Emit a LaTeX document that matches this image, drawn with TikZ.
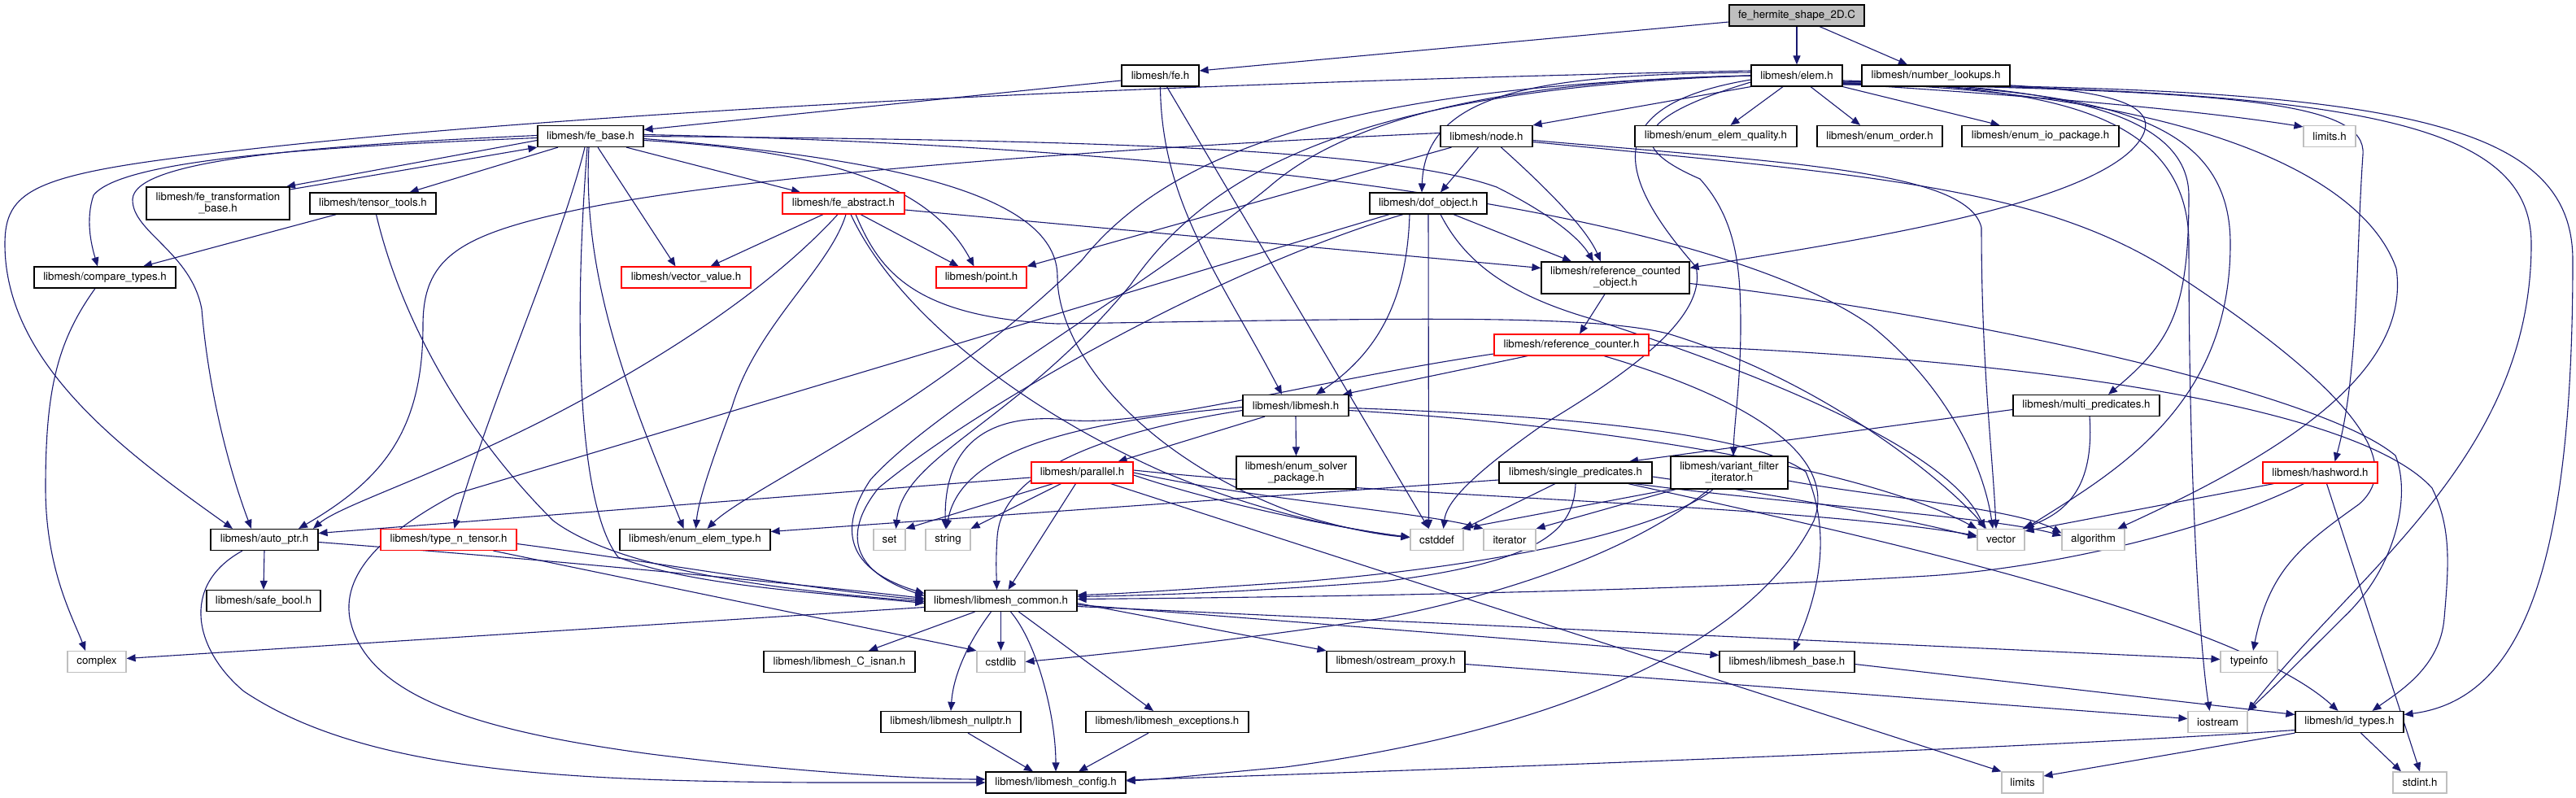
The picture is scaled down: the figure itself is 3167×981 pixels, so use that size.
\documentclass[tikz,border=0pt]{standalone}
\usepackage{fontspec}
\setmainfont{TeX Gyre Heros}
\usetikzlibrary{arrows.meta}
\definecolor{mblue}{HTML}{191970}
\definecolor{lgray}{HTML}{BFBFBF}
\pgfdeclarelayer{bg}
\pgfsetlayers{bg,main}
\tikzset{
  bx/.style={draw=black, fill=white, line width=1.2pt, inner sep=0pt, minimum height=26pt, align=center, font=\fontsize{13.3}{14}\selectfont},
  rb/.style={bx, draw=red},
  gb/.style={bx, draw=lgray},
  rt/.style={bx, fill=lgray},
  e/.style={draw=mblue, line width=1.1pt, -{Triangle[length=11pt,width=9pt]}}
}
\begin{document}
\begin{tikzpicture}[x=1pt,y=-1pt]
\useasboundingbox (0,0) rectangle (3167,981);
% row 1-2
\node[rt, minimum width=166pt] (herm) at (2209,19) {fe\_hermite\_shape\_2D.C};
\node[bx, minimum width=95pt] (fe) at (1426.5,93) {libmesh/fe.h};
\node[bx, minimum width=112pt] (elem) at (2209,93) {libmesh/elem.h};
\node[bx, minimum width=182pt] (numlook) at (2380,93) {libmesh/number\_lookups.h};
% row 3
\node[bx, minimum width=130pt] (febase) at (726,167.5) {libmesh/fe\_base.h};
\node[bx, minimum width=113pt] (node) at (1827.5,167.5) {libmesh/node.h};
\node[bx, minimum width=199pt] (eequal) at (2109.5,167.5) {libmesh/enum\_elem\_quality.h};
\node[bx, minimum width=154pt] (eorder) at (2311,167.5) {libmesh/enum\_order.h};
\node[bx, minimum width=193pt] (eiopkg) at (2508.5,167.5) {libmesh/enum\_io\_package.h};
\node[gb, minimum width=64pt] (limitsh) at (2864,167.5) {limits.h};
% row 4
\node[bx, minimum width=176pt, minimum height=40pt] (fetrans) at (268,250) {libmesh/fe\_transformation\\\_base.h};
\node[bx, minimum width=155pt] (tensor) at (458.5,250) {libmesh/tensor\_tools.h};
\node[rb, minimum width=150pt] (feabs) at (1037,250) {libmesh/fe\_abstract.h};
\node[bx, minimum width=144pt] (dof) at (1756,250) {libmesh/dof\_object.h};
% row 5
\node[bx, minimum width=174pt] (compare) at (129,341) {libmesh/compare\_types.h};
\node[rb, minimum width=159pt] (vecval) at (843.5,341) {libmesh/vector\_value.h};
\node[rb, minimum width=111pt] (point) at (1206.5,341) {libmesh/point.h};
\node[bx, minimum width=182pt, minimum height=39pt] (rco) at (1986,341.5) {libmesh/reference\_counted\\\_object.h};
% row 6-8
\node[rb, minimum width=190pt] (refcounter) at (1932,424) {libmesh/reference\_counter.h};
\node[bx, minimum width=130pt] (libmesh) at (1593,498.5) {libmesh/libmesh.h};
\node[bx, minimum width=180pt] (multipred) at (2565,498.5) {libmesh/multi\_predicates.h};
\node[bx, minimum width=147pt, minimum height=40pt] (esolver) at (1593.5,581) {libmesh/enum\_solver\\\_package.h};
\node[rb, minimum width=125pt] (parallel) at (1330.5,581) {libmesh/parallel.h};
\node[bx, minimum width=188pt] (singlepred) at (1937,581) {libmesh/single\_predicates.h};
\node[bx, minimum width=144pt, minimum height=40pt] (varfilt) at (2126,581) {libmesh/variant\_filter\\\_iterator.h};
\node[rb, minimum width=141pt] (hashword) at (2852.5,581) {libmesh/hashword.h};
% row 9
\node[bx, minimum width=132pt] (autoptr) at (325,663.5) {libmesh/auto\_ptr.h};
\node[rb, minimum width=167pt] (tntensor) at (551.5,663.5) {libmesh/type\_n\_tensor.h};
\node[bx, minimum width=185pt] (etype) at (854.5,663.5) {libmesh/enum\_elem\_type.h};
\node[gb, minimum width=39pt] (setn) at (1093.5,663.5) {set};
\node[gb, minimum width=55pt] (stringn) at (1165.5,663.5) {string};
\node[gb, minimum width=65pt] (cstddef) at (1766.5,663.5) {cstddef};
\node[gb, minimum width=64pt] (iterator) at (1856,663.5) {iterator};
\node[gb, minimum width=58pt] (vector) at (2460,663.5) {vector};
\node[gb, minimum width=77pt] (algorithm) at (2573.5,663.5) {algorithm};
% row 10-13
\node[bx, minimum width=140pt] (safebool) at (324,738.5) {libmesh/safe\_bool.h};
\node[bx, minimum width=187pt] (common) at (1230.5,738.5) {libmesh/libmesh\_common.h};
\node[gb, minimum width=72pt] (complex) at (119,813.5) {complex};
\node[bx, minimum width=186pt] (cisnan) at (1032,813.5) {libmesh/libmesh\_C\_isnan.h};
\node[gb, minimum width=59pt] (cstdlib) at (1230.5,813.5) {cstdlib};
\node[bx, minimum width=170pt] (ostream) at (1716,813.5) {libmesh/ostream\_proxy.h};
\node[bx, minimum width=166pt] (lmbase) at (2197,813.5) {libmesh/libmesh\_base.h};
\node[gb, minimum width=70pt] (typeinfo) at (2765,813.5) {typeinfo};
\node[bx, minimum width=172pt] (nullptr) at (1169,887.5) {libmesh/libmesh\_nullptr.h};
\node[bx, minimum width=200pt] (exceptions) at (1435,887.5) {libmesh/libmesh\_exceptions.h};
\node[gb, minimum width=73pt] (iostream) at (2726.5,887.5) {iostream};
\node[bx, minimum width=133pt] (idtypes) at (2888.5,887.5) {libmesh/id\_types.h};
\node[bx, minimum width=172pt] (config) at (1298,962) {libmesh/libmesh\_config.h};
\node[gb, minimum width=51pt] (limits) at (2486.5,962) {limits};
\node[gb, minimum width=66pt] (stdint) at (2975,962) {stdint.h};

\begin{pgfonlayer}{bg}
% root and fe
\draw[e] ([yshift=-8pt]herm.west) -- ([yshift=6pt]fe.east);
\draw[e] (herm.south) -- (elem.north);
\draw[e] ([xshift=28pt]herm.south) -- ([xshift=-35pt]numlook.north);
\draw[e] ([yshift=-6pt]fe.west) -- ([yshift=8pt]febase.east);
\draw[e] (fe.south) .. controls (1428,250) and (1500,340) .. ([xshift=-17pt]libmesh.north);
\draw[e] ([xshift=8pt]fe.south) -- ([xshift=-10pt]cstddef.north);
% elem
\draw[e] (elem.south west) -- (node.north east);
\draw[e] ([xshift=-17pt]elem.south) -- ([xshift=18pt]eequal.north);
\draw[e] ([xshift=17pt]elem.south) -- ([xshift=-24pt]eorder.north);
\draw[e] (elem.south east) -- ([xshift=-50pt]eiopkg.north);
\draw[e] ([yshift=-10pt]elem.east) .. controls (2500,118) and (2700,135) .. ([yshift=-2pt]limitsh.north west);
\draw[e] ([yshift=4pt]elem.west) .. controls (1900,92) and (1752,110) .. ([xshift=-8pt]dof.north);
\draw[e] ([yshift=-8pt]elem.east) .. controls (2550,100) and (2690,115) .. (2620,185) .. controls (2540,260) and (2250,300) .. ([yshift=-8pt]rco.north east);
\draw[e] ([yshift=6pt]elem.west) .. controls (1500,100) and (700,135) .. (250,190) .. controls (40,215) and (6,235) .. (6,300) .. controls (6,450) and (160,560) .. ([xshift=-39pt]autoptr.north);
\draw[e] (elem.west) .. controls (1800,100) and (1640,160) .. (1560,230) .. controls (1400,360) and (1150,500) .. (1070,590) .. controls (1030,650) and (1040,700) .. ([yshift=9pt]common.west);
\draw[e] (elem.west) .. controls (1700,105) and (1450,170) .. (1330,320) .. controls (1150,500) and (920,600) .. ([xshift=15pt]etype.north);
\draw[e] (elem.west) .. controls (1650,110) and (1480,220) .. (1390,350) .. controls (1250,520) and (1110,560) .. ([xshift=8pt]setn.north);
\draw[e] ([yshift=-5pt]elem.west) .. controls (1960,130) and (1990,220) .. (2085,328) .. controls (2100,390) and (2000,460) .. (1900,520) .. controls (1800,590) and (1778,620) .. ([xshift=8pt]cstddef.north);
\draw[e] ([yshift=-8pt]elem.west) .. controls (1990,150) and (2010,185) .. (2090,220) .. controls (2135,270) and (2140,330) .. (2140,400) .. controls (2140,470) and (2132,520) .. ([xshift=5pt]varfilt.north);
\draw[e] ([yshift=-6pt]elem.east) .. controls (2500,105) and (2690,130) .. (2691,240) .. controls (2691,380) and (2670,420) .. ([xshift=27pt]multipred.north);
\draw[e] ([yshift=-7pt]elem.east) .. controls (2500,108) and (2691,130) .. (2691,300) .. controls (2691,600) and (2705,800) .. ([xshift=-10pt]iostream.north);
\draw[e] ([yshift=-9pt]elem.east) .. controls (2600,108) and (2742,150) .. (2742,300) .. controls (2742,500) and (2600,580) .. (vector.north east);
\draw[e] ([yshift=-9pt]elem.east) .. controls (2650,112) and (2900,200) .. (2946,330) .. controls (2965,460) and (2800,560) .. ([xshift=30pt]algorithm.north);
\draw[e] ([yshift=-10pt]elem.east) .. controls (2750,112) and (2910,125) .. (2905,190) .. controls (2896,320) and (2900,460) .. ([xshift=18pt]hashword.north);
\draw[e] ([yshift=-10pt]elem.east) .. controls (2900,110) and (3112,150) .. (3112,300) .. controls (3112,560) and (2900,700) .. (iostream.north east);
\draw[e] ([yshift=-11pt]elem.east) .. controls (2950,105) and (3163,150) .. (3163,320) .. controls (3163,700) and (3100,860) .. ([yshift=9pt]idtypes.east);
% node
\draw[e] ([xshift=-43pt]node.south) -- (point.north east);
\draw[e] ([xshift=-10pt]node.south) -- ([xshift=15pt]dof.north);
\draw[e] ([xshift=18pt]node.south) .. controls (1900,230) and (1950,280) .. ([xshift=-18pt]rco.north);
\draw[e] ([yshift=4pt]node.west) .. controls (1400,180) and (900,215) .. (700,260) .. controls (560,290) and (520,320) .. (520,400) .. controls (520,530) and (470,590) .. ([xshift=42pt]autoptr.north);
\draw[e] ([yshift=-5pt]node.east) .. controls (2200,200) and (2420,210) .. (2436,280) .. controls (2436,450) and (2450,560) .. ([xshift=-6pt]vector.north);
\draw[e] ([yshift=-7pt]node.east) .. controls (2300,215) and (2500,230) .. (2661,328) .. controls (2850,450) and (2970,560) .. (2900,620) .. controls (2830,670) and (2790,700) .. ([xshift=5pt]typeinfo.north);
% dof
\draw[e] ([xshift=-23pt]dof.south) .. controls (1730,360) and (1700,430) .. ([xshift=25pt]libmesh.north);
\draw[e] (dof.south) -- ([xshift=-10pt]cstddef.north);
\draw[e] ([xshift=31pt]dof.south) -- ([xshift=-54pt]rco.north);
\draw[e] ([xshift=15pt]dof.south) .. controls (1800,320) and (1850,360) .. (1950,390) .. controls (2200,470) and (2400,560) .. ([xshift=-20pt]vector.north);
\draw[e] ([xshift=-48pt]dof.south) -- (561,607) .. controls (480,650) and (420,700) .. (430,760) .. controls (450,860) and (600,900) .. (800,927) .. controls (1000,952) and (1150,958) .. ([yshift=4pt]config.west);
\draw[e] ([xshift=-31pt]dof.south) .. controls (1500,330) and (1200,500) .. (1080,600) .. controls (1040,650) and (1040,700) .. ([yshift=6pt]common.west);
% rco, refcounter
\draw[e] ([xshift=-13pt]rco.south) -- ([xshift=10pt]refcounter.north);
\draw[e] ([yshift=-7pt]rco.east) .. controls (2400,385) and (2850,480) .. (2945,560) .. controls (2965,610) and (2945,700) .. (2880,760) .. controls (2830,810) and (2790,850) .. (iostream.north east);
\draw[e] ([xshift=-54pt]refcounter.south) -- ([xshift=58pt]libmesh.north);
\draw[e] ([yshift=-11pt]refcounter.west) .. controls (1600,470) and (1400,530) .. (1300,515) .. controls (1200,510) and (1160,560) .. ([xshift=-3pt]stringn.north);
\draw[e] ([xshift=40pt]refcounter.south) .. controls (2150,490) and (2260,560) .. (2230,640) .. controls (2150,800) and (1900,900) .. (1580,943) .. controls (1500,950) and (1430,958) .. ([yshift=2pt]config.east);
\draw[e] (refcounter.east) .. controls (2500,440) and (2900,500) .. (2990,600) .. controls (3015,650) and (3010,700) .. (3005,760) .. controls (3000,820) and (2950,850) .. ([xshift=28pt]idtypes.north);
% libmesh
\draw[e] (libmesh.south) -- (esolver.north);
\draw[e] ([xshift=-38pt]libmesh.south) -- ([xshift=44pt]parallel.north);
\draw[e] ([yshift=-6pt]libmesh.west) .. controls (1300,540) and (1230,600) .. (1226,660) .. controls (1224,690) and (1225,705) .. ([xshift=-5pt]common.north);
\draw[e] ([yshift=-2pt]libmesh.west) .. controls (1300,520) and (1180,560) .. ([xshift=-2pt]stringn.north);
\draw[e] ([yshift=-3pt]libmesh.east) .. controls (1900,510) and (2150,530) .. (2220,580) .. controls (2250,650) and (2240,720) .. ([xshift=8pt]lmbase.north);
\draw[e] ([yshift=-6pt]libmesh.east) .. controls (2000,525) and (2300,580) .. (vector.north west);
% parallel
\draw[e] ([yshift=-6pt]parallel.west) -- ([yshift=8pt]autoptr.east);
\draw[e] ([xshift=-36pt]parallel.south) -- (setn.north east);
\draw[e] ([xshift=-26pt]parallel.south) -- (stringn.north east);
\draw[e] ([xshift=-8pt]parallel.south) -- ([xshift=9pt]common.north);
\draw[e] ([yshift=-3pt]parallel.east) .. controls (1500,620) and (1650,650) .. ([yshift=3pt]cstddef.west);
\draw[e] (parallel.east) .. controls (1550,615) and (1750,630) .. (iterator.north west);
\draw[e] ([yshift=3pt]parallel.east) .. controls (1700,610) and (2200,620) .. ([yshift=5pt]vector.west);
\draw[e] ([xshift=35pt]parallel.south) -- (limits.north west);
% single predicates
\draw[e] ([yshift=-9pt]singlepred.west) -- ([yshift=10pt]etype.east);
\draw[e] ([xshift=-25pt]singlepred.south) -- (cstddef.north east);
\draw[e] (singlepred.south) .. controls (1935,650) and (1900,690) .. (1700,715) .. controls (1500,730) and (1400,732) .. ([yshift=5pt]common.east);
\draw[e] ([yshift=-5pt]singlepred.east) .. controls (2200,610) and (2350,640) .. ([yshift=3pt]vector.west);
\draw[e] ([xshift=-30pt]singlepred.south east) .. controls (2300,660) and (2750,760) .. ([xshift=-14pt]idtypes.north);
\draw[e] ([xshift=-22pt]singlepred.south east) .. controls (2200,620) and (2450,635) .. ([yshift=5pt]algorithm.west);
% variant filter iterator
\draw[e] ([xshift=-66pt]varfilt.south) -- (iterator.north east);
\draw[e] (varfilt.south west) -- ([xshift=-3pt]cstddef.north east);
\draw[e] ([xshift=-20pt]varfilt.south) .. controls (2060,640) and (1900,690) .. (1600,715) .. controls (1450,725) and (1380,730) .. ([yshift=7pt]common.east);
\draw[e] ([xshift=-25pt]varfilt.south) .. controls (2030,660) and (1900,720) .. (1700,760) .. controls (1500,790) and (1350,805) .. (cstdlib.east);
\draw[e] ([yshift=-10pt]varfilt.east) .. controls (2300,610) and (2480,625) .. ([yshift=8pt]algorithm.west);
% multi predicates, hashword
\draw[e] ([yshift=-5pt]multipred.west) -- ([xshift=66pt]singlepred.north);
\draw[e] ([xshift=4pt]multipred.south) .. controls (2575,600) and (2540,630) .. ([xshift=-3pt]vector.north east);
\draw[e] ([xshift=14pt]hashword.south west) -- ([yshift=-3pt]vector.north east);
\draw[e] ([xshift=-20pt]hashword.south) .. controls (2700,660) and (2500,700) .. (2370,708) .. controls (2000,730) and (1500,735) .. ([yshift=2pt]common.east);
\draw[e] ([xshift=8pt]hashword.south) -- (stdint.north);
% auto_ptr, type_n_tensor, tensor_tools
\draw[e] (autoptr.south) -- (safebool.north);
\draw[e] ([yshift=-3pt]autoptr.east) .. controls (700,690) and (1000,720) .. ([yshift=3pt]common.west);
\draw[e] ([xshift=-27pt]autoptr.south) .. controls (220,720) and (240,800) .. (300,850) .. controls (450,950) and (700,960) .. (1000,962) .. controls (1100,962) and (1150,962) .. (config.west);
\draw[e] ([yshift=-5pt]tntensor.east) .. controls (800,690) and (1000,725) .. ([yshift=1pt]common.west);
\draw[e] ([xshift=55pt]tntensor.south) -- (cstdlib.north west);
\draw[e] ([xshift=-45pt]tensor.south) -- ([xshift=47pt]compare.north);
\draw[e] ([xshift=4pt]tensor.south) .. controls (490,380) and (560,520) .. (680,640) .. controls (760,700) and (950,725) .. ([yshift=-1pt]common.west);
% fe_base
\draw[e] ([yshift=-5pt]febase.west) -- ([xshift=84pt]fetrans.north);
\draw[e] ([yshift=17pt]fetrans.east) -- (febase.south west);
\draw[e] ([xshift=-40pt]febase.south) -- ([xshift=45pt]tensor.north);
\draw[e] ([yshift=-2pt]febase.west) .. controls (400,180) and (150,195) .. (115,240) .. controls (105,270) and (112,300) .. ([xshift=-9pt]compare.north);
\draw[e] ([yshift=1pt]febase.west) .. controls (350,180) and (165,200) .. (163,245) .. controls (162,285) and (235,310) .. (248,380) .. controls (258,500) and (290,600) .. ([xshift=-16pt]autoptr.north);
\draw[e] ([xshift=44pt]febase.south) -- ([xshift=-53pt]feabs.north);
\draw[e] ([xshift=9pt]febase.south) -- ([xshift=-13pt]vecval.north);
\draw[e] ([yshift=-5pt]febase.east) .. controls (1000,185) and (1140,220) .. ([xshift=-9pt]point.north);
\draw[e] ([yshift=-3pt]febase.east) .. controls (1100,195) and (1300,240) .. (1300,340) .. controls (1300,430) and (1400,560) .. (1590,630) .. controls (1650,650) and (1700,658) .. ([yshift=3pt]cstddef.west);
\draw[e] (febase.east) .. controls (1300,172) and (1700,180) .. (1840,230) .. controls (1900,260) and (1940,290) .. ([xshift=-27pt]rco.north);
\draw[e] ([yshift=2pt]febase.east) .. controls (1500,180) and (2100,260) .. (2300,400) .. controls (2400,480) and (2440,580) .. ([xshift=-10pt]vector.north);
\draw[e] ([xshift=-7pt]febase.south) .. controls (690,300) and (600,500) .. ([xshift=7pt]tntensor.north);
\draw[e] ([xshift=-2pt]febase.south) .. controls (715,350) and (780,500) .. ([xshift=-14pt]etype.north);
\draw[e] ([xshift=-4pt]febase.south) .. controls (705,400) and (710,620) .. (760,685) .. controls (850,720) and (1000,728) .. ([yshift=-3pt]common.west);
% fe_abstract
\draw[e] ([xshift=-25pt]feabs.south) -- ([xshift=30pt]vecval.north);
\draw[e] ([xshift=21pt]feabs.south) -- ([xshift=-28pt]point.north);
\draw[e] ([xshift=-7pt]feabs.south) .. controls (960,340) and (850,420) .. (700,500) .. controls (550,580) and (420,620) .. ([xshift=60pt]autoptr.north);
\draw[e] ([xshift=3pt]feabs.south) .. controls (1020,330) and (930,400) .. (900,500) .. controls (870,580) and (858,620) .. ([xshift=1pt]etype.north);
\draw[e] ([xshift=9pt]feabs.south) .. controls (1100,380) and (1250,500) .. (1430,580) .. controls (1550,630) and (1650,650) .. ([yshift=3pt]cstddef.west);
\draw[e] ([yshift=-8pt]feabs.east) -- ([yshift=12pt]rco.west);
\draw[e] ([xshift=15pt]feabs.south) .. controls (1080,330) and (1120,390) .. (1300,398) .. controls (1700,392) and (1950,385) .. (2050,410) .. controls (2250,470) and (2400,600) .. ([xshift=-18pt]vector.north);
% compare, common
\draw[e] ([xshift=-12pt]compare.south) .. controls (70,420) and (56,480) .. (56,600) .. controls (56,700) and (90,760) .. ([xshift=-14pt]complex.north);
\draw[e] ([yshift=-8pt]common.west) -- ([yshift=4pt]complex.east);
\draw[e] ([xshift=-32pt]common.south) -- ([xshift=36pt]cisnan.north);
\draw[e] (common.south) -- (cstdlib.north);
\draw[e] ([xshift=-12pt]common.south) .. controls (1190,790) and (1172,830) .. (nullptr.north);
\draw[e] ([xshift=12pt]common.south) .. controls (1275,790) and (1298,880) .. (config.north);
\draw[e] ([xshift=22pt]common.south) -- ([xshift=-17pt]exceptions.north);
\draw[e] ([yshift=-3pt]common.east) -- (ostream.north west);
\draw[e] ([yshift=-5pt]common.east) -- ([yshift=8pt]lmbase.west);
\draw[e] ([yshift=-7pt]common.east) -- ([yshift=3pt]typeinfo.west);
\draw[e] ([xshift=21pt]nullptr.south) -- ([xshift=-28pt]config.north);
\draw[e] ([xshift=-23pt]exceptions.south) -- ([xshift=28pt]config.north);
\draw[e] ([yshift=-3pt]ostream.east) -- ([yshift=4pt]iostream.west);
\draw[e] ([yshift=-3pt]lmbase.east) -- ([yshift=9pt]idtypes.west);
\draw[e] ([yshift=-10pt]idtypes.west) .. controls (2500,920) and (1800,945) .. ([yshift=3pt]config.east);
\draw[e] (idtypes.south west) -- ([yshift=8pt]limits.east);
\draw[e] ([xshift=14pt]idtypes.south) -- ([xshift=-23pt]stdint.north);
\end{pgfonlayer}
\end{tikzpicture}
\end{document}
